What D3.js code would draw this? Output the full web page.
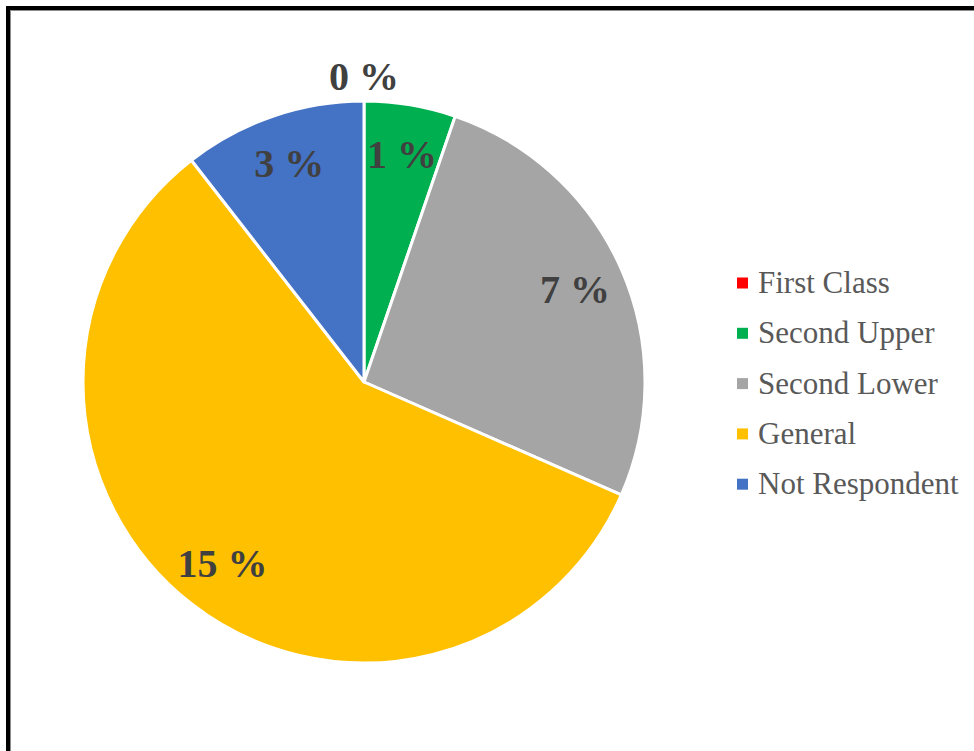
<!DOCTYPE html>
<html>
<head>
<meta charset="utf-8">
<script src="https://cdn.jsdelivr.net/npm/d3@7"></script>
<style>
  body { margin: 0; background: #fff; }
  svg { display: block; }
</style>
</head>
<body>
<div id="chart"></div>
<script>
const categories = ["First Class", "Second Upper", "Second Lower", "General", "Not Respondent"];
// slice sizes
const values = [0, 2, 10, 22, 4];
// data labels as printed on the slices
const labels = ["0 %", "1 %", "7 %", "15 %", "3 %"];
const colors = ["#FF0000", "#00B050", "#A5A5A5", "#FFC000", "#4472C4"];

const width = 974,
  height = 751,
  radius = 281,
  cx = 364,
  cy = 382;

const svg = d3
  .select("#chart")
  .append("svg")
  .attr("width", width)
  .attr("height", height);

// outer frame
svg.append("rect")
  .attr("x", 8).attr("y", 8)
  .attr("width", 1000).attr("height", 1000)
  .attr("fill", "none")
  .attr("stroke", "#000")
  .attr("stroke-width", 4);
svg.append("rect")
  .attr("x", 10.5).attr("y", 10.5)
  .attr("width", 1000).attr("height", 1000)
  .attr("fill", "none")
  .attr("stroke", "#8c8c8c")
  .attr("stroke-width", 1);

const color = d3.scaleOrdinal().domain(categories).range(colors);

const data = categories.map((c, i) => ({ name: c, value: values[i], label: labels[i] }));

const pie = d3.pie().value((d) => d.value).sort(null);
const arc = d3.arc().innerRadius(0).outerRadius(radius);
const labelArc = d3.arc().innerRadius(radius * 0.82).outerRadius(radius * 0.82);
const outArc = d3.arc().innerRadius(radius + 24).outerRadius(radius + 24);

const g = svg.append("g").attr("transform", `translate(${cx}, ${cy})`);

const arcs = g.selectAll("g.slice").data(pie(data)).enter().append("g").attr("class", "slice");

arcs
  .append("path")
  .attr("d", arc)
  .attr("fill", (d) => color(d.data.name))
  .attr("stroke", "#fff")
  .attr("stroke-width", 3)
  .attr("stroke-linejoin", "round");

arcs
  .append("text")
  .attr("transform", (d) =>
    `translate(${d.value === 0 ? outArc.centroid(d) : labelArc.centroid(d)})`)
  .attr("text-anchor", "middle")
  .attr("dy", "0.33em")
  .style("font-family", "'Liberation Serif', 'DejaVu Serif', serif")
  .style("font-weight", "bold")
  .style("font-size", "40px")
  .style("fill", "#404040")
  .text((d) => d.data.label);

// legend
const legend = svg
  .append("g")
  .attr("transform", "translate(737, 283)")
  .selectAll("g")
  .data(categories)
  .enter()
  .append("g")
  .attr("transform", (d, i) => `translate(0, ${i * 50.3})`);

legend
  .append("rect")
  .attr("x", 0)
  .attr("y", -5.5)
  .attr("width", 11)
  .attr("height", 11)
  .attr("fill", (d) => color(d));

legend
  .append("text")
  .attr("x", 21)
  .attr("dy", "0.32em")
  .style("font-family", "'Liberation Serif', 'DejaVu Serif', serif")
  .style("font-size", "31px")
  .style("fill", "#595959")
  .text((d) => d);
</script>
</body>
</html>
